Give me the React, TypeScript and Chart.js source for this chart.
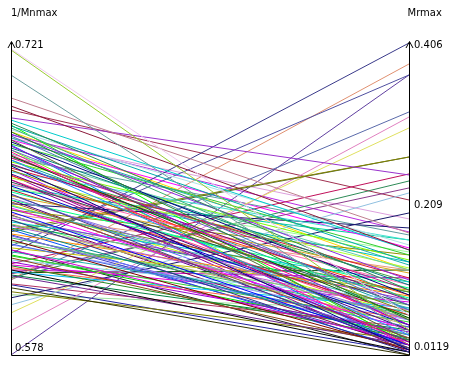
import React, { useEffect, useRef } from "react";
import { Chart, registerables } from "chart.js";

Chart.register(...registerables);

const axisNames = ["1/Mnmax", "Mrmax"];
const leftRange = [0.578, 0.721];
const rightRange = [0.0119, 0.406];
const leftTicks = ["0.721", "0.578"];
const rightTicks = ["0.406", "0.209", "0.0119"];

const leftValues = [
  0.7178, 0.7183, 0.7063, 0.6958, 0.6921, 0.6867, 0.6857, 0.6843, 0.683, 0.6821,
  0.6812, 0.6803, 0.6793, 0.6784, 0.6775, 0.6766, 0.6757, 0.6747, 0.6738, 0.6729,
  0.672, 0.6711, 0.6702, 0.6692, 0.6683, 0.6674, 0.6665, 0.6656, 0.6647, 0.6637,
  0.6628, 0.6619, 0.661, 0.6601, 0.6592, 0.6583, 0.6573, 0.6564, 0.6555, 0.6546,
  0.6537, 0.6528, 0.6518, 0.6509, 0.65, 0.6491, 0.6482, 0.6473, 0.6463, 0.6454,
  0.6445, 0.6436, 0.6427, 0.6418, 0.6409, 0.6399, 0.639, 0.6381, 0.6372, 0.6363,
  0.6354, 0.6345, 0.6335, 0.6326, 0.6317, 0.6308, 0.6299, 0.6289, 0.628, 0.6271,
  0.6262, 0.6253, 0.6244, 0.6234, 0.6225, 0.6216, 0.6207, 0.6198, 0.6189, 0.618,
  0.617, 0.6161, 0.6152, 0.6143, 0.6134, 0.6125, 0.6125, 0.6106, 0.6088, 0.607,
  0.6042, 0.601, 0.5973, 0.5891, 0.578, 0.6834, 0.6789, 0.6743, 0.6697, 0.6651,
  0.6605, 0.656, 0.6514, 0.6468, 0.6422, 0.6376, 0.6331, 0.6285, 0.6239, 0.6193,
  0.6147, 0.6102, 0.6056, 0.617, 0.6157, 0.6775, 0.6683, 0.6903, 0.6766, 0.6537,
  0.6445, 0.6491, 0.672, 0.6628, 0.6354, 0.6583, 0.6674, 0.6399, 0.6262, 0.6803,
];

const rightValues = [
  0.0435, 0.0624, 0.0385, 0.166, 0.1446, 0.2393, 0.1446, 0.094, 0.1294, 0.0814,
  0.1509, 0.0561, 0.1067, 0.0688, 0.1256, 0.0309, 0.0877, 0.1383, 0.0498, 0.1004,
  0.0751, 0.0246, 0.1193, 0.0587, 0.094, 0.0372, 0.1319, 0.0814, 0.0183, 0.1092,
  0.0662, 0.1572, 0.0435, 0.0877, 0.1218, 0.0284, 0.0751, 0.1004, 0.0498, 0.1421,
  0.0624, 0.0839, 0.0208, 0.1155, 0.0561, 0.0965, 0.0334, 0.1724, 0.0713, 0.0435,
  0.0915, 0.0246, 0.1193, 0.0587, 0.0814, 0.0157, 0.1042, 0.0498, 0.0688, 0.0309,
  0.262, 0.262, 0.0864, 0.0372, 0.0624, 0.0183, 0.0751, 0.0473, 0.3656, 0.094,
  0.0284, 0.0662, 0.406, 0.0536, 0.0208, 0.0814, 0.041, 0.2406, 0.0334, 0.0587,
  0.0157, 0.0713, 0.2229, 0.0246, 0.2317, 0.3795, 0.3189, 0.0473, 0.0119, 0.0309,
  0.1913, 0.2166, 0.2987, 0.3125, 0.3656, 0.0246, 0.1673, 0.0183, 0.0498, 0.1042,
  0.0157, 0.1294, 0.0334, 0.0624, 0.0208, 0.0915, 0.0246, 0.0561, 0.0372, 0.0789,
  0.0435, 0.0157, 0.0688, 0.1092, 0.1193, 0.1838, 0.1635, 0.2077, 0.1471, 0.1572,
  0.1383, 0.0246, 0.0284, 0.0246, 0.0183, 0.0561, 0.0688, 0.0372, 0.0119, 0.1193,
];

const lineColors = [
  "#99cc33", "#f0c8f0", "#6f9f9f", "#c08090", "#8b1a3a", "#9932cc", "#00cccc", "#2e8b57", "#00aaaa", "#3cb371",
  "#b0e0e6", "#228b22", "#8a2be2", "#4682b4", "#20b2aa", "#556b2f", "#000080", "#32cd32", "#9400d3", "#008080",
  "#6a5acd", "#ff1493", "#66cdaa", "#006400", "#c71585", "#1e90ff", "#7cfc00", "#800080", "#00008b", "#dc143c",
  "#808000", "#40e0d0", "#4b0082", "#ff4500", "#adff2f", "#8b008b", "#2f4f4f", "#ff69b4", "#0000cd", "#98fb98",
  "#b22222", "#00fa9a", "#483d8b", "#daa520", "#9370db", "#00ff7f", "#a0522d", "#191970", "#3cb3b3", "#ff00ff",
  "#6b8e23", "#0000ff", "#e9967a", "#8fbc8f", "#9932cc", "#2e2e8b", "#00ced1", "#bdb76b", "#ba55d3", "#008b8b",
  "#808000", "#556b2f", "#ff8c00", "#7b68ee", "#3cb371", "#800000", "#66cc66", "#4169e1", "#5050a0", "#c0c000",
  "#dd00dd", "#20b2aa", "#3a3a8a", "#32cd32", "#8b4513", "#87ceeb", "#9400d3", "#c0105a", "#228b22", "#ff6347",
  "#000000", "#00bfff", "#8b3a8b", "#6b238e", "#2e8b57", "#e09070", "#5a6aaa", "#b03060", "#333300", "#7a7a00",
  "#1a1a6a", "#90c0e0", "#e0e060", "#e080c0", "#6040a0", "#00ff00", "#ba2be2", "#0080ff", "#ff0080", "#40a040",
  "#a000a0", "#00c0c0", "#6060ff", "#c0ff00", "#800040", "#00a060", "#4040c0", "#a0a0ff", "#00e000", "#e000e0",
  "#008040", "#2020a0", "#a0e0a0", "#c000c0", "#005000", "#dda0dd", "#5f9ea0", "#a03050", "#ff00ff", "#00d0a0",
  "#909000", "#4b0082", "#7fff00", "#b000ff", "#0050ff", "#ff4080", "#10a0a0", "#70ff70", "#202020", "#ffd700",
];

const norm = (v: number, r: number[]) => (v - r[0]) / (r[1] - r[0]);

const FONT = "10px 'DejaVu Sans', sans-serif";

const axesPlugin = {
  id: "pcAxes",
  afterDatasetsDraw(chart: any) {
    const { ctx, chartArea, scales } = chart;
    const ys = scales.y;
    const xs = scales.x;
    const xl = Math.round(xs.getPixelForValue(0)) + 0.5;
    const xr = Math.round(xs.getPixelForValue(1)) + 0.5;
    const yTop = Math.round(ys.getPixelForValue(1));
    const yBot = Math.round(ys.getPixelForValue(0)) + 0.5;
    ctx.save();
    ctx.strokeStyle = "#000";
    ctx.lineWidth = 1;
    ctx.beginPath();
    for (const x of [xl, xr]) {
      ctx.moveTo(x, yBot);
      ctx.lineTo(x, yTop - 1);
      ctx.moveTo(x - 3.5, yTop + 5);
      ctx.lineTo(x, yTop - 1.5);
      ctx.lineTo(x + 3.5, yTop + 5);
    }
    ctx.moveTo(xl, yBot);
    ctx.lineTo(xr, yBot);
    ctx.stroke();

    ctx.fillStyle = "#000";
    ctx.font = FONT;
    ctx.textBaseline = "middle";
    ctx.textAlign = "left";
    ctx.fillText(axisNames[0], xl - 0.5, 13);
    ctx.fillText(axisNames[1], xr - 2, 13);

    // left ticks
    ctx.fillText(leftTicks[0], xl + 3.5, ys.getPixelForValue(norm(parseFloat(leftTicks[0]), leftRange)) + 2);
    ctx.fillText(leftTicks[1], xl + 3.5, ys.getPixelForValue(norm(parseFloat(leftTicks[1]), leftRange)) - 7);
    // right ticks
    const rOff = [2, 6, -8];
    rightTicks.forEach((t, i) => {
      const v = parseFloat(t);
      ctx.fillText(t, xr + 4.5, ys.getPixelForValue(norm(v, rightRange)) + rOff[i]);
    });
    ctx.restore();
  },
};

export default function App() {
  const ref = useRef<HTMLCanvasElement | null>(null);
  useEffect(() => {
    if (!ref.current) return;
    const datasets = leftValues.map((lv, i) => ({
      data: [
        { x: 0, y: norm(lv, leftRange) },
        { x: 1, y: norm(rightValues[i], rightRange) },
      ],
      borderColor: lineColors[i % lineColors.length],
      borderWidth: 1,
      pointRadius: 0,
      fill: false,
      tension: 0,
    }));
    const chart = new Chart(ref.current, {
      type: "line",
      data: { datasets },
      options: {
        animation: false,
        responsive: false,
        devicePixelRatio: 1,
        layout: { padding: { left: 11, right: 60, top: 43, bottom: 11 } },
        plugins: { legend: { display: false }, tooltip: { enabled: false } },
        scales: {
          x: { type: "linear", min: 0, max: 1, display: false },
          y: { type: "linear", min: 0, max: 1, display: false },
        },
      },
      plugins: [axesPlugin],
    });
    return () => chart.destroy();
  }, []);
  return (
    <div style={{ position: "fixed", left: 0, top: 0, width: 469, height: 366, background: "#fff" }}>
      <canvas ref={ref} width={469} height={366} />
    </div>
  );
}
